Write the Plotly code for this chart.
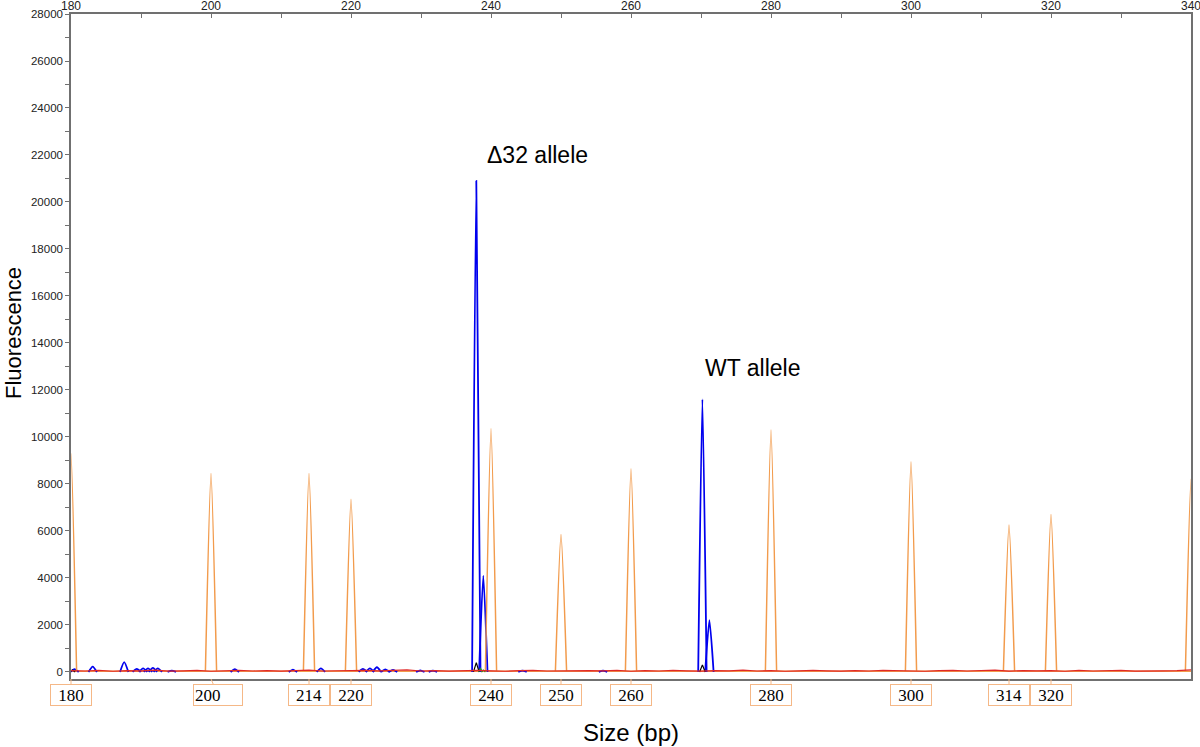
import plotly.graph_objects as go

# ladder (size standard) - orange
ladder_sizes = [180, 200, 214, 220, 240, 250, 260, 280, 300, 314, 320, 340]
ladder_heights = [9300, 8450, 8450, 7350, 10350, 5850, 8650, 10300, 8950, 6250, 6700, 8200]

# sample peaks - blue
blue_sizes = [180.5, 183.1, 187.6, 189.4, 190.3, 191.0, 191.7, 192.4, 194.4, 203.4,
              211.7, 215.7, 221.7, 222.7, 223.7, 224.9, 226.0, 229.9, 231.7,
              237.9, 238.9, 244.5, 256.0, 270.2, 271.2]
blue_heights = [120, 230, 420, 130, 150, 150, 170, 150, 60, 120,
                100, 150, 130, 150, 200, 110, 90, 70, 60,
                20900, 4100, 60, 60, 11600, 2200]

# other dyes
black_sizes = [180.2, 237.9, 270.2]
black_heights = [80, 400, 300]
green_sizes = [238.5, 238.9]
green_heights = [150, 80]

# red baseline noise, every 2 bp from 180 to 340
noise_sizes = list(range(180, 341, 2))
noise_values = [60, 40, 70, 30, 55, 45, 80, 35, 50, 65, 30, 45, 70, 40, 55, 35, 60, 75, 40, 50,
                30, 65, 45, 55, 85, 40, 60, 35, 50, 70, 45, 30, 55, 65, 40, 50, 35, 60, 45, 70,
                30, 55, 40, 65, 50, 35, 60, 45, 75, 40, 55, 30, 50, 65, 45, 35, 60, 40, 70, 50,
                45, 30, 55, 65, 40, 50, 75, 35, 60, 45, 55, 30, 65, 40, 50, 70, 35, 55, 45, 60, 90]

# bottom boxes
box_labels = [180, 200, 214, 220, 240, 250, 260, 280, 300, 314, 320]

ORANGE = "#F29B4C"
BLUE = "#0000EE"
FONT = "Liberation Sans, Arial, Helvetica, sans-serif"


def peak_segments(sizes, heights, hw, base=0):
    xs, ys = [], []
    for s, h in zip(sizes, heights):
        xs += [s - hw, s, s + hw, None]
        ys += [base, h, base, None]
    return xs, ys


fig = go.Figure()

# baselines
fig.add_trace(go.Scatter(x=[180, 340], y=[25, 25], mode="lines",
                         line=dict(color=ORANGE, width=1.5), hoverinfo="skip"))
bx, by = peak_segments(blue_sizes, blue_heights, 0.6)
fig.add_trace(go.Scatter(x=bx, y=by, mode="lines", line=dict(color=BLUE, width=1.8, shape="spline", smoothing=0.6)))
ox, oy = peak_segments(ladder_sizes, ladder_heights, 0.8, base=25)
fig.add_trace(go.Scatter(x=ox, y=oy, mode="lines", line=dict(color=ORANGE, width=1.5, shape="spline", smoothing=0.6)))
kx, ky = peak_segments(black_sizes, black_heights, 0.4)
fig.add_trace(go.Scatter(x=kx, y=ky, mode="lines", line=dict(color="black", width=1.2)))
gx, gy = peak_segments(green_sizes, green_heights, 0.3)
fig.add_trace(go.Scatter(x=gx, y=gy, mode="lines", line=dict(color="#1A9A2A", width=1.2)))
fig.add_trace(go.Scatter(x=noise_sizes, y=noise_values, mode="lines",
                         line=dict(color="#E02828", width=1.2)))

fig.update_layout(
    width=1200, height=747,
    margin=dict(l=71, r=9, t=14, b=68),
    plot_bgcolor="white", paper_bgcolor="white",
    showlegend=False,
    font=dict(family=FONT, size=11, color="#222"),
    xaxis=dict(
        side="top", range=[180, 340], tick0=180, dtick=20,
        showgrid=False, zeroline=False, automargin=False,
        showline=True, linecolor="#707070", linewidth=1.5, mirror=True,
        ticks="inside", ticklen=4, tickcolor="#707070", ticklabelstandoff=-3,
        ticklabeloverflow="allow",
        minor=dict(dtick=10, ticks="inside", ticklen=4, tickcolor="#707070"),
        tickfont=dict(size=12, color="#222"),
    ),
    yaxis=dict(
        range=[-300, 28000], tick0=0, dtick=2000, tickformat="d",
        showgrid=False, zeroline=False, automargin=False,
        showline=True, linecolor="#707070", linewidth=1.5, mirror=True,
        ticks="outside", ticklen=4, tickcolor="#707070",
        minor=dict(dtick=1000, ticks="outside", ticklen=4, tickcolor="#707070"),
        tickfont=dict(size=11.5, color="#222"),
    ),
)

# size-standard label boxes under the axis
for lab in box_labels:
    wide = lab == 200  # this box is drawn wider and off-centre in the original
    fig.add_annotation(
        x=lab, y=0, xref="x", yref="paper",
        text=str(lab), showarrow=True, arrowhead=0, arrowwidth=1,
        arrowcolor="#F5B887", ax=7 if wide else 0, ay=16, standoff=0,
        font=dict(family="Liberation Serif, Times New Roman, serif", size=17, color="black"),
        bordercolor="#F5B887", borderwidth=1, borderpad=1,
        width=46 if wide else 38, height=18, bgcolor="white",
        align="left" if wide else "center",
    )

# peak labels
fig.add_annotation(x=246.7, y=22000, text="Δ32 allele", showarrow=False,
                   font=dict(size=23, color="black"))
fig.add_annotation(x=277.4, y=12950, text="WT allele", showarrow=False,
                   font=dict(size=23, color="black"))

# axis titles
fig.add_annotation(x=0.5, y=-0.081, xref="paper", yref="paper", text="Size (bp)",
                   showarrow=False, yanchor="middle", font=dict(size=24, color="black"))
fig.add_annotation(x=-0.052, y=0.52, xref="paper", yref="paper", text="Fluorescence",
                   textangle=-90, showarrow=False, xanchor="center", yanchor="middle",
                   font=dict(size=22, color="black"))

# body margin would shift the fixed-size figure
fig.write_html("out.html", config={"displayModeBar": False},
               post_script="document.body.style.margin='0';")
